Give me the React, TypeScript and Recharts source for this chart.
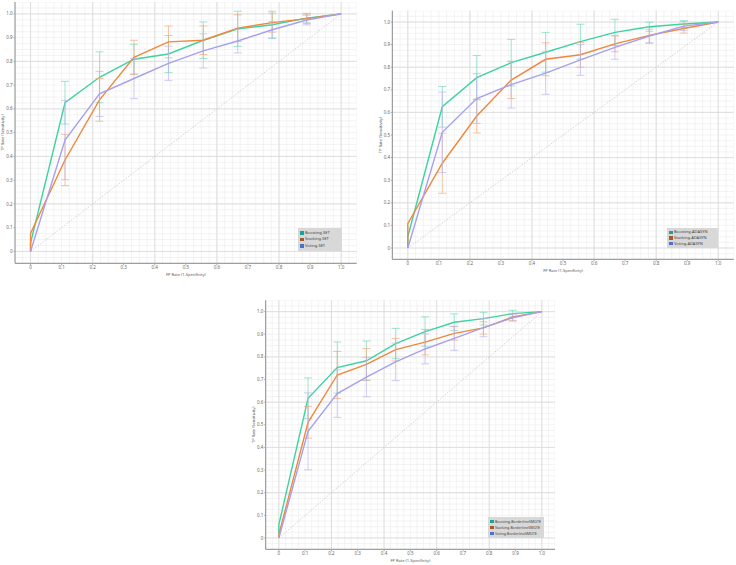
import React from 'react';
import { ComposedChart, Line, XAxis, YAxis, ReferenceLine, ErrorBar } from 'recharts';

// ---------- data ----------
const fpr = [0, 0, 0.111, 0.222, 0.333, 0.444, 0.556, 0.667, 0.778, 0.889, 1.0];
const axisTicks = [0, 0.1, 0.2, 0.3, 0.4, 0.5, 0.6, 0.7, 0.8, 0.9, 1.0];
const majorGrid = [0, 0.2, 0.4, 0.6, 0.8, 1.0];

const boostingSetTpr = [0, 0.035, 0.626, 0.733, 0.809, 0.831, 0.889, 0.937, 0.954, 0.982, 1.0];
const boostingSetErr = [null, null, 0.09, 0.107, 0.063, 0.078, 0.077, 0.074, 0.057, 0.02, null];
const stackingSetTpr = [0, 0.076, 0.385, 0.638, 0.817, 0.882, 0.889, 0.94, 0.963, 0.98, 1.0];
const stackingSetErr = [null, null, 0.108, 0.09, 0.072, 0.067, 0.06, 0.056, 0.04, 0.02, null];
const votingSetTpr = [0, 0, 0.469, 0.663, 0.728, 0.792, 0.844, 0.886, 0.933, 0.974, 1.0];
const votingSetErr = [null, null, 0.167, 0.095, 0.085, 0.072, 0.072, 0.05, 0.035, 0.02, null];

const boostingAdaTpr = [0, 0.05, 0.625, 0.754, 0.82, 0.866, 0.913, 0.954, 0.979, 0.991, 1.0];
const boostingAdaErr = [null, null, 0.09, 0.098, 0.103, 0.088, 0.077, 0.058, 0.02, 0.015, null];
const stackingAdaTpr = [0, 0.108, 0.375, 0.584, 0.743, 0.835, 0.855, 0.903, 0.941, 0.971, 1.0];
const stackingAdaErr = [null, null, 0.133, 0.075, 0.082, 0.073, 0.055, 0.035, 0.035, 0.02, null];
const votingAdaTpr = [0, 0, 0.512, 0.661, 0.723, 0.774, 0.832, 0.888, 0.938, 0.982, 1.0];
const votingAdaErr = [null, null, 0.178, 0.11, 0.104, 0.094, 0.068, 0.053, 0.03, 0.02, null];

const boostingBsTpr = [0, 0.059, 0.617, 0.753, 0.783, 0.859, 0.912, 0.953, 0.969, 0.991, 1.0];
const boostingBsErr = [null, null, 0.09, 0.113, 0.087, 0.067, 0.065, 0.037, 0.028, 0.015, null];
const stackingBsTpr = [0, 0.015, 0.511, 0.72, 0.767, 0.832, 0.865, 0.904, 0.928, 0.976, 1.0];
const stackingBsErr = [null, null, 0.07, 0.104, 0.07, 0.05, 0.056, 0.03, 0.027, 0.015, null];
const votingBsTpr = [0, 0, 0.471, 0.638, 0.711, 0.778, 0.835, 0.882, 0.929, 0.973, 1.0];
const votingBsErr = [null, null, 0.17, 0.105, 0.087, 0.083, 0.066, 0.053, 0.04, 0.015, null];

const setNames = ['Boosting-SET', 'Stacking-SET', 'Voting-SET'];
const adaNames = ['Boosting-ADASYN', 'Stacking-ADASYN', 'Voting-ADASYN'];
const bsNames = ['Boosting-BorderlineSMOTE', 'Stacking-BorderlineSMOTE', 'Voting-BorderlineSMOTE'];

// ---------- styles ----------
const lineColors = ['#3dd3a0', '#f0873a', '#a6a0f0'];
const errColors = ['#6fd8b8', '#f3a873', '#b8b4ee'];
const legendColors = ['#17a398', '#a35a2a', '#4a6fd6'];
const FONT = '"Noto Sans", "DejaVu Sans", sans-serif';

const minorGrid: number[] = [];
for (let i = -2; i <= 42; i++) minorGrid.push(Math.round(i * 25) / 1000);

const build = (tpr: (number)[], err: (number | null)[]) =>
  fpr.map((x, i) => ({ x, y: tpr[i], e: err[i] }));

const fmt = (v: number) => (v === 0 ? '0' : v.toFixed(1));

const YTitle = (props: any) => {
  const vb = props.viewBox || {};
  const cx = vb.x + 3;
  const cy = vb.y + vb.height / 2;
  return (
    <text x={cx} y={cy} transform={`rotate(-90 ${cx} ${cy})`} textAnchor="middle" dominantBaseline="central"
      fontSize={4} fill="#555" fontFamily={FONT}>TP Rate (Sensitivity)</text>
  );
};
const XTitle = (props: any) => {
  const vb = props.viewBox || {};
  const cx = vb.x + vb.width / 2;
  const cy = vb.y + 11.5;
  return (
    <text x={cx} y={cy} textAnchor="middle" dominantBaseline="central"
      fontSize={4} fill="#555" fontFamily={FONT}>FP Rate (1-Specificity)</text>
  );
};

type PanelProps = {
  left: number; top: number; width: number; height: number;
  margin: { top: number; right: number; bottom: number; left: number };
  xAxisHeight: number;
  series: { tpr: number[]; err: (number | null)[] }[];
  names: string[];
  legend: { left: number; top: number; width: number; height: number; font: number };
};

const Panel = (p: PanelProps) => (
  <div style={{ position: 'absolute', left: p.left, top: p.top, width: p.width, height: p.height }}>
    <ComposedChart width={p.width} height={p.height} margin={p.margin}>
      <XAxis type="number" dataKey="x" domain={[-0.05, 1.05]} ticks={axisTicks} tickFormatter={fmt}
        allowDataOverflow height={p.xAxisHeight} interval={0}
        tick={{ fontSize: 4.5, fill: '#666', fontFamily: FONT }} tickSize={2} tickMargin={0.5}
        axisLine={{ stroke: '#888', strokeWidth: 1 }} tickLine={{ stroke: '#aaa' }}
        label={{ content: (lp: any) => <XTitle {...lp} /> }} />
      <YAxis type="number" dataKey="y" domain={[-0.05, 1.05]} ticks={axisTicks} tickFormatter={fmt}
        allowDataOverflow width={15} interval={0}
        tick={{ fontSize: 4.5, fill: '#666', fontFamily: FONT }} tickSize={1.5} tickMargin={0.8}
        axisLine={{ stroke: '#888', strokeWidth: 1 }} tickLine={{ stroke: '#aaa' }}
        label={{ content: (lp: any) => <YTitle {...lp} /> }} />
      {minorGrid.map((v) => (
        <ReferenceLine key={'mx' + v} x={v} stroke="#ebebeb" strokeWidth={0.6} ifOverflow="hidden" />
      ))}
      {minorGrid.map((v) => (
        <ReferenceLine key={'my' + v} y={v} stroke="#ebebeb" strokeWidth={0.6} ifOverflow="hidden" />
      ))}
      {majorGrid.map((v) => (
        <ReferenceLine key={'Mx' + v} x={v} stroke="#d9d9d9" strokeWidth={0.8} />
      ))}
      {majorGrid.map((v) => (
        <ReferenceLine key={'My' + v} y={v} stroke="#d9d9d9" strokeWidth={0.8} />
      ))}
      <ReferenceLine segment={[{ x: 0, y: 0 }, { x: 1, y: 1 }]} stroke="#c8c8c8" strokeDasharray="1.5 1.5" strokeWidth={0.8} />
      {p.series.map((s, i) => (
        <Line key={p.names[i]} data={build(s.tpr, s.err)} dataKey="y" name={p.names[i]} type="linear"
          stroke={lineColors[i]} strokeWidth={1.4} dot={false} isAnimationActive={false}>
          <ErrorBar dataKey="e" direction="y" width={4} stroke={errColors[i]} strokeWidth={0.8} strokeOpacity={0.85} />
        </Line>
      ))}
    </ComposedChart>
    <div style={{
      position: 'absolute', left: p.legend.left - p.left, top: p.legend.top - p.top,
      minWidth: p.legend.width, height: p.legend.height, background: '#d8d8d8', boxSizing: 'border-box',
      padding: '1.5px 2px', fontFamily: FONT, fontSize: p.legend.font, color: '#444', lineHeight: '6px',
    }}>
      {p.names.map((n, i) => (
        <div key={n} style={{ display: 'flex', alignItems: 'center', height: p.legend.height / 3 - 1 }}>
          <span style={{ display: 'inline-block', flexShrink: 0, width: 3.5, height: 3.5, background: legendColors[i], marginRight: 1.5 }} />
          <span style={{ whiteSpace: 'nowrap' }}>{n}</span>
        </div>
      ))}
    </div>
  </div>
);

export default function App() {
  return (
    <div style={{ position: 'absolute', left: 0, top: 0, width: 736, height: 565, background: '#fff', overflow: 'hidden' }}>
      <Panel left={0} top={0} width={360} height={290}
        margin={{ top: 2, right: 3.3, bottom: 12, left: 0 }} xAxisHeight={14.7}
        series={[{ tpr: boostingSetTpr, err: boostingSetErr }, { tpr: stackingSetTpr, err: stackingSetErr }, { tpr: votingSetTpr, err: votingSetErr }]}
        names={setNames}
        legend={{ left: 298, top: 228, width: 44, height: 23, font: 4 }} />
      <Panel left={368} top={0} width={368} height={290}
        margin={{ top: 10.7, right: 2.2, bottom: 16.5, left: 9.3 }} xAxisHeight={14.2}
        series={[{ tpr: boostingAdaTpr, err: boostingAdaErr }, { tpr: stackingAdaTpr, err: stackingAdaErr }, { tpr: votingAdaTpr, err: votingAdaErr }]}
        names={adaNames}
        legend={{ left: 667, top: 228, width: 51, height: 20, font: 4 }} />
      <Panel left={240} top={290} width={330} height={275}
        margin={{ top: 10.3, right: 15, bottom: 1.5, left: 10.7 }} xAxisHeight={14.2}
        series={[{ tpr: boostingBsTpr, err: boostingBsErr }, { tpr: stackingBsTpr, err: stackingBsErr }, { tpr: votingBsTpr, err: votingBsErr }]}
        names={bsNames}
        legend={{ left: 488, top: 517, width: 56, height: 21, font: 3.6 }} />
    </div>
  );
}
